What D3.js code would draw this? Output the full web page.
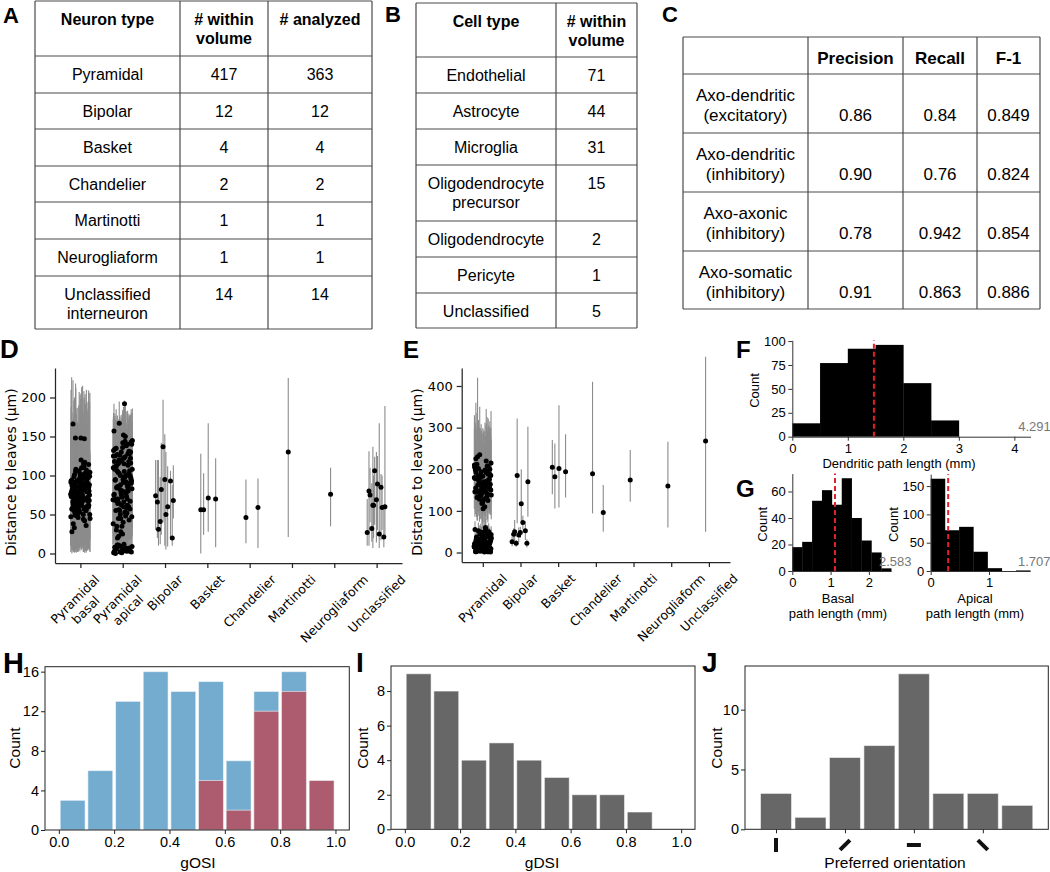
<!DOCTYPE html>
<html><head><meta charset="utf-8">
<script src="https://cdn.jsdelivr.net/npm/d3@7"></script>
<style>body{margin:0;background:#fff}</style>
</head><body>
<svg id="fig" width="1050" height="872"></svg>
<script>
// ---------------- DATA ----------------
// Table A
const tableAHeader = ["Neuron type", "# within\nvolume", "# analyzed"];
const neuronTypes = ["Pyramidal","Bipolar","Basket","Chandelier","Martinotti","Neurogliaform","Unclassified\ninterneuron"];
const withinVolumeA = [417,12,4,2,1,1,14];
const analyzedA = [363,12,4,2,1,1,14];
// Table B
const tableBHeader = ["Cell type", "# within\nvolume"];
const cellTypes = ["Endothelial","Astrocyte","Microglia","Oligodendrocyte\nprecursor","Oligodendrocyte","Pericyte","Unclassified"];
const withinVolumeB = [71,44,31,15,2,1,5];
// Table C
const tableCHeader = ["", "Precision", "Recall", "F-1"];
const synapseTypes = ["Axo-dendritic\n(excitatory)","Axo-dendritic\n(inhibitory)","Axo-axonic\n(inhibitory)","Axo-somatic\n(inhibitory)"];
const precisionC = ["0.86","0.90","0.78","0.91"];
const recallC = ["0.84","0.76","0.942","0.863"];
const f1C = ["0.849","0.824","0.854","0.886"];

// Panel D: [value, low, high] per neuron (distance to leaves, um)
const dCategories = ["Pyramidal\nbasal","Pyramidal\napical","Bipolar","Basket","Chandelier","Martinotti","Neurogliaform","Unclassified"];
const dPyrBasal = [
[72,8,160],[85,12,175],[64,5,150],[98,15,196],[55,3,140],[78,10,165],[91,18,210],[68,6,155],[105,20,218],[60,4,145],
[82,11,170],[74,9,158],[117,14,190],[48,2,130],[88,16,180],[66,7,152],[101,13,200],[58,3,142],[79,10,168],[94,19,226],
[70,8,160],[52,1,135],[86,14,178],[148,22,205],[63,5,148],[97,17,192],[75,9,162],[45,2,128],[110,21,215],[81,12,172],
[69,7,156],[90,15,185],[57,4,143],[147,20,200],[77,10,164],[103,18,205],[62,5,147],[84,13,176],[36,1,120],[95,16,190],
[73,9,159],[50,3,132],[108,19,212],[67,6,154],[87,14,182],[166,25,222],[59,4,144],[80,11,169],[99,17,195],[71,8,157],
[53,2,136],[92,15,186],[76,10,163],[28,0,118],[112,20,208],[65,6,150],[83,12,174],[120,22,198],[56,3,141],[96,16,191],
[74,9,161],[47,2,129],[89,14,183],[148,21,188],[61,5,146],[102,18,203],[78,10,166],[42,1,125],[93,15,187],[68,7,155],
[85,13,177],[33,1,122],[107,19,210],[64,6,149],[79,11,167],[115,21,180],[54,3,138],[97,16,193],[72,8,158],[38,2,124],
[88,14,181],[60,5,145],[104,18,206],[75,9,162],[49,2,131],[91,15,184],[66,7,153],[82,12,171],[100,17,197],[70,8,160],
[62,6,150],[77,11,165],[88,14,178],[55,4,140],[69,8,156],[93,16,188],[81,12,170],[58,5,143],[72,9,160],[99,18,198],
[66,7,152],[84,13,174],[51,3,134],[75,10,163],[90,15,184],[63,6,149],[79,11,168],[106,19,207],[57,4,142],[71,9,158],
[86,14,179],[60,5,146],[94,16,189],[68,8,155],[82,12,172],[46,2,128],[76,10,164],[101,18,200],[65,7,151],[87,14,180],
[53,3,137],[73,9,161],[96,17,193],[61,5,147],[80,11,169],[110,20,213],[67,7,154],[89,15,183],[56,4,141],[78,10,166],
[44,2,126],[92,16,186],[70,8,159],[85,13,177],[59,5,145],[103,18,204],[74,9,162],[50,3,133],[83,12,173],[64,6,150],
[98,17,195],[69,8,157],[87,14,181],[57,4,142],[76,10,165],[114,21,209],[62,6,148],[81,11,171],[95,16,190],[72,9,160]];
const dPyrApical = [
[120,25,170],[95,18,160],[60,10,150],[135,30,185],[80,15,165],[45,8,140],[110,22,172],[150,35,190],[70,12,158],[100,20,168],
[25,3,120],[125,28,176],[88,16,162],[55,9,148],[140,30,180],[105,21,170],[35,5,130],[118,24,174],[75,14,160],[157,40,192],
[92,18,166],[65,11,152],[130,28,178],[40,6,135],[112,23,171],[85,16,163],[50,9,145],[145,32,186],[98,20,167],[20,2,115],
[128,27,177],[72,13,159],[108,22,169],[58,10,149],[167,45,195],[90,17,164],[122,25,175],[30,4,125],[102,20,168],[78,14,161],
[132,29,180],[48,8,142],[115,23,172],[67,12,154],[142,31,184],[95,19,166],[62,11,151],[126,26,176],[83,15,162],[192,50,196],
[106,21,170],[43,7,138],[120,24,173],[76,14,160],[138,30,182],[56,10,147],[97,19,165],[152,36,188],[70,13,157],[113,23,171],
[88,17,164],[38,6,132],[124,26,175],[64,11,152],[100,20,167],[80,15,161],[134,29,179],[52,9,144],[117,24,172],[93,18,165],
[115,23,172],[85,16,163],[60,11,150],[130,28,178],[75,14,160],[100,20,168],[45,8,140],[122,25,175],[95,18,166],[68,12,155],
[140,31,183],[82,15,162],[108,22,170],[53,9,146],[127,27,177],[90,17,164],[35,5,130],[118,24,173],[73,13,159],[103,21,169],
[143,32,185],[66,12,153],[112,23,171],[87,16,163],[28,4,122],[125,26,176],[79,14,161],[104,21,169],[57,10,148],[136,30,181],
[94,18,165],[70,13,157],[119,24,174],[47,8,141],[98,19,167],[84,16,162],[131,28,179],[62,11,151],[110,22,170],[77,14,160],
[22,3,118],[116,23,172],[91,17,164],[55,10,147],[128,27,177],[100,20,168],[69,12,156],[144,32,186],[86,16,163],[106,21,169],
[5,1,12],[8,2,14],[3,0,10],[10,3,16],[2,0,8],[12,4,18],[6,1,12],[4,0,10],[9,2,15],[1,0,6],
[7,1,13],[11,3,17],[3,0,9],[5,1,11],[0,0,5],[6,1,12],[2,0,8],[9,2,15],[4,0,10],[11,3,17],[7,1,13],[1,0,6],[3,0,9]];
const dBipolar = [[82,24,142],[68,45,113],[50,5,130],[31,10,120],[93,20,106],[137,40,197],[74,30,120],[60,9,112],[41,12,98],[20,10,88],[95,10,153],[66,20,120]];
const dBasket = [[56,24,103],[70,8,122],[71,28,167],[56,0,128]];
const dChandelier = [[46,13,95],[59,7,96]];
const dMartinotti = [[130,21,225]];
const dNeurogliaform = [[76,35,110]];
const dUnclassified = [[62,7,137],[60,21,189],[89,30,125],[75,40,110],[59,30,100],[106,37,124],[27,10,70],[25,7,167],[32,15,90],[21,8,60],[69,14,130],[80,10,131],[85,17,102],[62,20,100]];
const dYTicks = [0,50,100,150,200];

// Panel E
const eCategories = ["Pyramidal","Bipolar","Basket","Chandelier","Martinotti","Neurogliaform","Unclassified"];
const ePyramidal = [
[185,110,300],[5,0,20],[160,95,290],[12,2,30],[140,80,270],[25,5,45],[210,130,330],[8,0,22],[175,100,295],[40,10,60],
[120,70,260],[18,3,35],[195,120,310],[3,0,15],[150,90,280],[30,6,50],[230,140,420],[15,2,32],[165,100,292],[55,15,75],
[130,75,265],[10,1,25],[200,125,315],[22,4,40],[145,85,275],[2,0,12],[180,105,298],[35,8,55],[110,65,255],[6,0,20],
[190,115,305],[48,12,68],[155,92,283],[14,2,30],[235,140,350],[28,5,48],[170,102,294],[4,0,16],[125,72,262],[20,3,38],
[205,128,320],[60,18,80],[148,88,278],[9,1,24],[183,108,299],[32,7,52],[135,78,268],[16,2,33],[215,132,340],[1,0,10],
[162,97,288],[44,11,64],[118,68,258],[11,1,27],[192,118,306],[26,5,46],[152,91,281],[7,0,21],[178,104,296],[38,9,58],
[142,83,272],[13,2,29],[198,122,312],[52,14,72],[158,94,286],[19,3,36],[225,138,360],[3,0,14],[168,101,293],[29,6,49],
[128,74,263],[8,0,23],[188,112,302],[42,10,62],[146,86,276],[24,4,42],[172,103,295],[12,2,28],[105,62,250],[36,8,56],
[208,129,325],[6,0,18],[138,80,270],[17,3,34],[182,107,297],[50,13,70],[156,93,285],[2,0,11],[220,135,345],[31,6,51],
[164,98,290],[10,1,26],[132,76,266],[46,12,66],[194,119,308],[21,4,39],[150,90,280],[5,0,17],[176,103,296],[34,7,54],
[4,0,15],[14,2,30],[27,5,47],[9,1,24],[41,10,61],[19,3,36],[2,0,12],[33,7,53],[16,2,33],[57,16,77],
[11,1,27],[23,4,41],[3,0,14],[37,8,57],[7,0,21],[49,13,69],[15,2,31],[30,6,50],[5,0,17],[21,4,39],
[8,0,22],[25,5,44],[12,2,28],[45,11,65],[1,0,10],[18,3,35],[34,7,54],[6,0,19],[28,5,48],[13,2,29],
[53,14,73],[10,1,25],[39,9,59],[17,3,34],[2,0,12],[24,4,43],[8,0,22],[43,11,63],[14,2,30],[31,6,51],
[175,104,296],[143,84,273],[198,123,311],[160,95,289],[128,74,264],[187,111,301],[152,91,282],[212,131,335],[166,99,291],[137,79,269],
[180,106,298],[148,88,278],[202,126,318],[157,94,286],[122,70,260],[192,117,306],[171,102,294],[140,81,271],[185,109,299],[163,98,290],
[133,77,267],[207,128,322],[154,92,284],[178,104,296],[145,86,276]];
const eBipolar = [[185,70,322],[170,86,302],[117,75,200],[50,26,78],[52,30,75],[42,25,60],[26,15,38],[72,55,88],[22,14,30],[22,12,32],[48,35,62],[44,30,58]];
const eBasket = [[182,106,262],[194,132,284],[202,108,354],[205,140,270]];
const eChandelier = [[189,94,410],[96,50,162]];
const eMartinotti = [[174,122,246]];
const eNeurogliaform = [[160,60,266]];
const eUnclassified = [[268,50,470]];
const eYTicks = [0,100,200,300,400];

// Panel F / G histograms
const fCounts = [14,77,92,96,56,17];
const fBinWidth = 0.5;
const fMax = 4.291, fMedian = 1.47;
const fXTicks = [0,1,2,3,4], fYTicks = [0,25,50,75,100];
const basalCounts = [18,22,53,61,50,70,40,23,14,2];
const basalMax = 2.583, basalMedian = 1.115;
const basalXTicks = [0,1,2], basalYTicks = [0,20,40,60];
const apicalCounts = [163,72,78,34,5,0,1];
const apicalMax = 1.707, apicalMedian = 0.30;
const apicalXTicks = [0,1], apicalYTicks = [0,50,100,150];

// Panel H / I / J
const gosiAll = [3,6,13,16,14,15,7,14,16,5];
const gosiSelective = [0,0,0,0,0,5,2,12,14,5];
const gdsiCounts = [9,8,4,5,4,3,2,2,1,0];
const indexTicks = [0,0.2,0.4,0.6,0.8,1.0];
const hYTicks = [0,4,8,12,16];
const iYTicks = [0,2,4,6,8];
const orientCounts = [3,1,6,7,13,3,3,2];
const orientBinDeg = 22.5;
const orientTicks = [0,45,90,135];
const jYTicks = [0,5,10];

// ---------------- DRAWING ----------------
const SANS = "'Liberation Sans', Arial, Helvetica, sans-serif";
const DJV = "'DejaVu Sans', sans-serif";
const svg = d3.select("#fig");
svg.append("rect").attr("width",1050).attr("height",872).attr("fill","#fff");

function styleAxis(a, fam, fs, col, w){
  a.attr("font-family",fam).attr("font-size",fs);
  a.select(".domain").attr("stroke",col).attr("stroke-width",w);
  a.selectAll(".tick line").attr("stroke",col).attr("stroke-width",w);
  a.selectAll(".tick text").attr("fill","#000");
}

// ---- Tables ----
function drawTable(xs, ys, rows, opt){
  const g = svg.append("g");
  const x0=xs[0], x1=xs[xs.length-1], y0=ys[0], y1=ys[ys.length-1];
  ys.forEach(yy=> g.append("line").attr("x1",x0).attr("x2",x1).attr("y1",yy).attr("y2",yy)
    .attr("stroke","#4a4a4a").attr("stroke-width",1.2));
  xs.forEach(xx=> g.append("line").attr("x1",xx).attr("x2",xx).attr("y1",y0).attr("y2",y1)
    .attr("stroke","#4a4a4a").attr("stroke-width",1.2));
  rows.forEach((row,r)=>{
    row.forEach((txt,c)=>{
      const lines = String(txt).split("\n");
      const cx = (xs[c]+xs[c+1])/2;
      const start = (r>0 && c>0) ? (opt.valueLine||0) : 0;
      const t = g.append("text").attr("text-anchor","middle").attr("font-family",SANS)
        .attr("font-size",opt.fs).attr("font-weight", r===0 ? "bold" : "normal").attr("fill","#000");
      lines.forEach((ln,i)=> t.append("tspan").attr("x",cx)
        .attr("y", ys[r]+opt.first+(i+start)*opt.gap+0.36*opt.fs).text(ln));
    });
  });
}
drawTable([35,180,268,372],[1,56,93,129,166,202,239,276,329],
  [tableAHeader].concat(neuronTypes.map((n,i)=>[n,withinVolumeA[i],analyzedA[i]])),
  {fs:16, first:18.5, gap:19});
drawTable([416,556,637],[3,57,93,129,165,221,257,293,328],
  [tableBHeader].concat(cellTypes.map((n,i)=>[n,withinVolumeB[i]])),
  {fs:16, first:18.5, gap:19});
drawTable([683,808,903,977,1040],[37,74,133,192,251,309],
  [tableCHeader].concat(synapseTypes.map((n,i)=>[n,precisionC[i],recallC[i],f1C[i]])),
  {fs:17, first:20.5, gap:20, valueLine:1});

// ---- Strip panels D/E ----
function jitter(i){ return ((((i+0.5)*0.6180339887)%1)-0.5)*2*0.23; }
function stripPanel(o){
  const g = svg.append("g");
  const x = d3.scaleLinear().domain(o.xdom).range([o.left,o.right]);
  const y = d3.scaleLinear().domain(o.ydom).range([o.bottom,o.top]);
  const sp = x(1)-x(0);
  o.groups.forEach((grp,gi)=>{
    grp.forEach((d,i)=>{
      const jx = x(gi)+jitter(i)*sp;
      g.append("line").attr("x1",jx).attr("x2",jx).attr("y1",y(d[1])).attr("y2",y(d[2]))
        .attr("stroke","#8c8c8c").attr("stroke-width",1.1);
    });
  });
  o.groups.forEach((grp,gi)=>{
    grp.forEach((d,i)=>{
      const jx = x(gi)+jitter(i)*sp;
      g.append("circle").attr("cx",jx).attr("cy",y(d[0])).attr("r",2.5).attr("fill","#000");
    });
  });
  const ay = g.append("g").attr("transform",`translate(${o.left},0)`)
    .call(d3.axisLeft(y).tickValues(o.yticks).tickSize(5).tickPadding(4).tickSizeOuter(0));
  styleAxis(ay, DJV, 13, "#262626", 1.25);
  const ax = g.append("g").attr("transform",`translate(0,${o.bottom})`)
    .call(d3.axisBottom(x).tickValues(d3.range(o.cats.length)).tickSize(5).tickSizeOuter(0).tickFormat(""));
  styleAxis(ax, DJV, 13, "#262626", 1.25);
  o.cats.forEach((c,i)=>{
    const lines = c.split("\n"); const fs=12.5, lh=fs*1.2;
    const t = g.append("text").attr("font-family",DJV).attr("font-size",fs).attr("text-anchor","middle").attr("fill","#000");
    lines.forEach((ln,k)=> t.append("tspan").attr("x",0).attr("y",(k-(lines.length-1)/2)*lh+0.35*fs).text(ln));
    const L = d3.max(t.selectAll("tspan").nodes(), n=>n.getComputedTextLength());
    const box = (L+lines.length*lh)/Math.SQRT2;
    t.attr("transform",`translate(${x(i)},${o.bottom+9+box/2}) rotate(-45)`);
  });
  g.append("text").attr("transform",`translate(${o.labelX},472) rotate(-90)`).attr("text-anchor","middle")
    .attr("font-family",DJV).attr("font-size",14).attr("fill","#000").text("Distance to leaves (μm)");
}
stripPanel({cats:dCategories, groups:[dPyrBasal,dPyrApical,dBipolar,dBasket,dChandelier,dMartinotti,dNeurogliaform,dUnclassified],
  xdom:[-0.6,7.6], left:55, right:402, ydom:[-12.18,237.8], bottom:563, top:368, yticks:dYTicks, labelX:16});
stripPanel({cats:eCategories, groups:[ePyramidal,eBipolar,eBasket,eChandelier,eMartinotti,eNeurogliaform,eUnclassified],
  xdom:[-0.56,6.56], left:461.7, right:730, ydom:[-22.8,443.2], bottom:562, top:368, yticks:eYTicks, labelX:421.5});

// ---- Histograms F/G ----
function pathHist(o){
  const g = svg.append("g");
  const x = d3.scaleLinear().domain([0,o.max]).range([o.left,o.right]);
  const y = d3.scaleLinear().domain([0,o.ytop]).range([o.bottom,o.top]);
  const bw = o.binWidth || o.max/o.counts.length;
  g.selectAll("rect.bar").data(o.counts).join("rect").attr("class","bar")
    .attr("x",(d,i)=>x(i*bw)).attr("width",x(bw)-x(0)+0.3).attr("y",d=>y(d)).attr("height",d=>y(0)-y(d)).attr("fill","#000");
  g.append("line").attr("x1",x(o.median)).attr("x2",x(o.median)).attr("y1",y(0)).attr("y2",o.top)
    .attr("stroke","#e4202a").attr("stroke-width",2).attr("stroke-dasharray","5,3");
  const ax = g.append("g").attr("transform",`translate(0,${o.bottom})`)
    .call(d3.axisBottom(x).tickValues(o.xticks).tickSize(4).tickPadding(3).tickSizeOuter(0).tickFormat(d3.format("d")));
  styleAxis(ax, SANS, 13, "#333", 1);
  const ay = g.append("g").attr("transform",`translate(${o.left},0)`)
    .call(d3.axisLeft(y).tickValues(o.yticks).tickSize(4).tickPadding(2.5).tickSizeOuter(0));
  styleAxis(ay, SANS, 13, "#333", 1);
  g.append("text").attr("x",x(o.max)+4).attr("y",o.bottom-10+4.6).attr("text-anchor","middle")
    .attr("font-family",SANS).attr("font-size",13).attr("fill","#777").text(o.max);
  g.append("text").attr("transform",`translate(${o.countX},${(o.top+o.bottom)/2+2}) rotate(-90)`).attr("text-anchor","middle")
    .attr("font-family",SANS).attr("font-size",13).attr("fill","#000").text("Count");
  const t = g.append("text").attr("text-anchor","middle").attr("font-family",SANS).attr("font-size",13).attr("fill","#000");
  o.xlabel.forEach((ln,k)=> t.append("tspan").attr("x",o.xlabelX).attr("y",o.xlabelY+k*15).text(ln));
}
pathHist({counts:fCounts, binWidth:fBinWidth, max:fMax, median:fMedian, left:792.3, right:1030.5, bottom:436.7, top:340.3,
  ytop:100.8, xticks:fXTicks, yticks:fYTicks, countX:758.5, xlabel:["Dendritic path length (mm)"], xlabelX:899, xlabelY:467.5});
pathHist({counts:basalCounts, max:basalMax, median:basalMedian, left:792.3, right:891.2, bottom:571, top:473.6,
  ytop:73.5, xticks:basalXTicks, yticks:basalYTicks, countX:767, xlabel:["Basal","path length (mm)"], xlabelX:838, xlabelY:602.5});
pathHist({counts:apicalCounts, max:apicalMax, median:apicalMedian, left:930.7, right:1030.2, bottom:571, top:474.2,
  ytop:171, xticks:apicalXTicks, yticks:apicalYTicks, countX:898, xlabel:["Apical","path length (mm)"], xlabelX:975, xlabelY:602.5});

// ---- Histograms H/I/J ----
function boxHist(o){
  const g = svg.append("g");
  const x = d3.scaleLinear().domain(o.xdom).range([o.left,o.right]);
  const y = d3.scaleLinear().domain([0,o.ytop]).range([o.bottom,o.top]);
  o.series.forEach(s=>{
    g.selectAll(null).data(s.counts).join("rect")
      .attr("x",(d,i)=>x(o.start+i*o.bw+o.bw*0.05)).attr("width",x(o.bw*0.9)-x(0))
      .attr("y",d=>y(d)).attr("height",d=>y(0)-y(d))
      .attr("fill",s.color).attr("stroke","#ffffff").attr("stroke-opacity",0.55).attr("stroke-width",1)
      .attr("display",d=>d>0?null:"none");
  });
  g.append("rect").attr("x",o.left).attr("y",o.top).attr("width",o.right-o.left).attr("height",o.bottom-o.top)
    .attr("fill","none").attr("stroke","#222").attr("stroke-width",1);
  const ax = g.append("g").attr("transform",`translate(0,${o.bottom})`)
    .call(d3.axisBottom(x).tickValues(o.xticks).tickSize(4).tickPadding(3).tickSizeOuter(0).tickFormat(o.xfmt));
  styleAxis(ax, SANS, 14.5, "#222", 1); ax.select(".domain").remove();
  const ay = g.append("g").attr("transform",`translate(${o.left},0)`)
    .call(d3.axisLeft(y).tickValues(o.yticks).tickSize(4).tickPadding(2).tickSizeOuter(0));
  styleAxis(ay, SANS, 14.5, "#222", 1); ay.select(".domain").remove();
  g.append("text").attr("transform",`translate(${o.countX},748) rotate(-90)`).attr("text-anchor","middle")
    .attr("font-family",SANS).attr("font-size",15.5).attr("fill","#000").text("Count");
  g.append("text").attr("x",o.xlabelX).attr("y",868).attr("text-anchor","middle")
    .attr("font-family",SANS).attr("font-size",15.5).attr("fill","#000").text(o.xlabel);
  return {g,x,y};
}
boxHist({series:[{counts:gosiAll,color:"#74acd0"},{counts:gosiSelective,color:"#ad5b6e"}], xdom:[-0.05,1.05], start:0, bw:0.1,
  left:45, right:349.3, top:666.7, bottom:830, ytop:16.5, xticks:indexTicks, xfmt:d3.format(".1f"), yticks:hYTicks,
  countX:20, xlabel:"gOSI", xlabelX:198});
boxHist({series:[{counts:gdsiCounts,color:"#666766"}], xdom:[-0.05,1.05], start:0, bw:0.1,
  left:391, right:695, top:666, bottom:829.3, ytop:9.45, xticks:indexTicks, xfmt:d3.format(".1f"), yticks:iYTicks,
  countX:368, xlabel:"gDSI", xlabelX:542});
const J = boxHist({series:[{counts:orientCounts,color:"#666766"}], xdom:[-20.25,177.75], start:-orientBinDeg/2, bw:orientBinDeg,
  left:745, right:1048.3, top:666, bottom:829.3, ytop:13.65, xticks:orientTicks, xfmt:()=>"", yticks:jYTicks,
  countX:721.5, xlabel:"Preferred orientation", xlabelX:895});
orientTicks.forEach(deg=>{
  J.g.append("line").attr("x1",0).attr("x2",0).attr("y1",-7).attr("y2",7)
    .attr("transform",`translate(${J.x(deg)},845) rotate(${deg})`)
    .attr("stroke","#111").attr("stroke-width",4);
});

// ---- Panel letters ----
[["A",3,23,22],["B",385,22,22],["C",662,22,22],["D",0,358,26],["E",403,358,24],["F",736,358,24],
 ["G",736,497,24],["H",3,673,29],["I",356,672,28],["J",702,672,28]].forEach(p=>{
  svg.append("text").attr("x",p[1]).attr("y",p[2]).attr("font-family",SANS).attr("font-weight","bold")
    .attr("font-size",p[3]).attr("fill","#000").text(p[0]);
});
</script>
</body></html>
